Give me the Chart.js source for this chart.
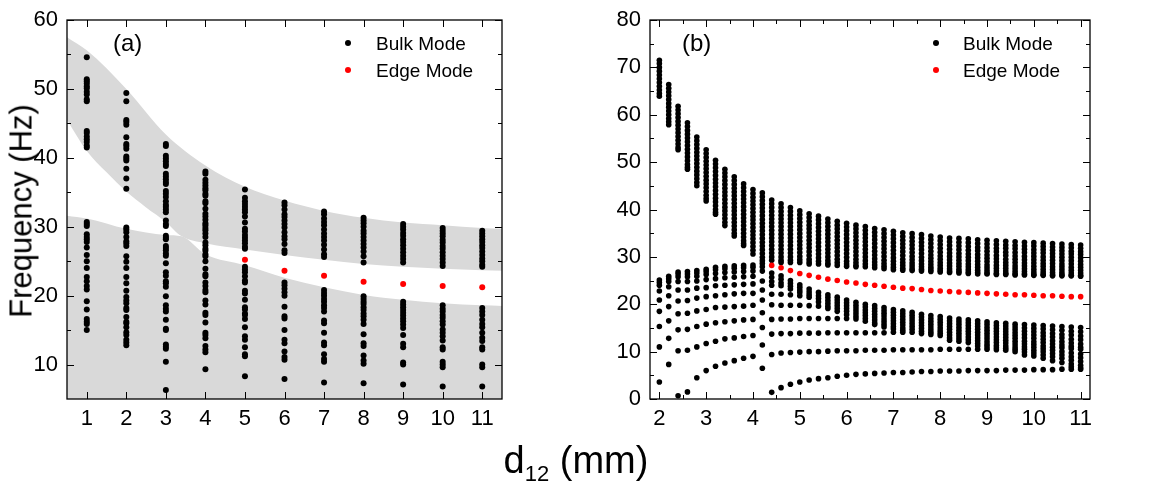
<!DOCTYPE html>
<html>
<head>
<meta charset="utf-8">
<script src="https://cdn.jsdelivr.net/npm/chart.js@4.4.1/dist/chart.umd.min.js"></script>
<style>
  body { margin: 0; background: #fff; }
  #wrap { position: relative; width: 1153px; height: 486px; font-family: "Liberation Sans", Arial, sans-serif; color: #000; }
  canvas { position: absolute; top: 0; }
  #cA { left: 0; }
  #cB { left: 600px; }
  .t { position: absolute; white-space: nowrap; line-height: 1; }
  .dot { position: absolute; width: 6px; height: 6px; border-radius: 50%; }
</style>
</head>
<body>
<div id="wrap">
  <canvas id="cA" width="600" height="486"></canvas>
  <canvas id="cB" width="553" height="486"></canvas>

  <div class="t" style="left:113px;top:31px;font-size:24px;">(a)</div>
  <span class="dot" style="left:345px;top:40px;background:#000"></span>
  <div class="t" style="left:376px;top:34px;font-size:19px;">Bulk Mode</div>
  <span class="dot" style="left:345px;top:67px;background:#f00"></span>
  <div class="t" style="left:376px;top:61px;font-size:19px;">Edge Mode</div>

  <div class="t" style="left:682px;top:31px;font-size:24px;">(b)</div>
  <span class="dot" style="left:933px;top:40px;background:#000"></span>
  <div class="t" style="left:963px;top:34px;font-size:19px;">Bulk Mode</div>
  <span class="dot" style="left:933px;top:67px;background:#f00"></span>
  <div class="t" style="left:963px;top:61px;font-size:19px;">Edge Mode</div>

  <div class="t" style="left:21px;top:211px;font-size:31px;transform:translate(-50%,-50%) rotate(-90deg);">Frequency (Hz)</div>
  <div class="t" style="left:576px;top:441px;font-size:38px;transform:translateX(-50%);">d<sub style="font-size:22px;vertical-align:-8px;">12</sub> (mm)</div>
</div>

<script>
// ---- panel (a) ----
const aXTicks = [1, 2, 3, 4, 5, 6, 7, 8, 9, 10, 11];
const aYTicks = [10, 20, 30, 40, 50, 60];
const aYMinor = [15, 25, 35, 45, 55];

const aCols = [1, 2, 3, 4, 5, 6, 7, 8, 9, 10, 11];
// bulk frequencies per column
const aBulk = [
  [54.6,51.4,51.1,50.8,50.4,50.1,49.6,49.2,48.5,48.2,43.9,43.6,43.1,42.7,42.3,41.8,41.5,30.7,30.4,30.1,28.9,28.5,28.2,27.8,27.0,25.9,25.0,24.0,22.7,22.1,21.4,20.9,19.2,18.0,16.6,16.2,15.9,15.0],
  [49.4,48.2,45.5,45.2,44.8,43.0,42.0,41.7,41.3,40.2,39.9,39.6,38.4,37.0,35.5,29.9,29.6,29.2,28.5,27.9,27.6,27.2,25.7,24.9,24.0,22.7,21.8,20.7,19.8,19.3,18.9,18.2,17.9,16.9,16.2,16.0,15.4,14.7,14.3,13.6,13.2,12.8],
  [42.0,41.7,40.3,39.9,39.5,39.1,38.8,37.7,37.3,36.9,36.5,36.2,35.2,34.8,34.3,33.7,33.2,32.9,32.5,32.1,30.9,30.4,30.1,28.7,28.4,28.2,27.2,26.9,26.6,26.1,25.8,24.7,23.4,22.9,22.1,21.8,21.3,19.9,18.6,18.1,17.7,16.5,15.2,15.0,12.9,12.6,12.3,10.4,6.3],
  [38.0,37.7,36.8,36.4,36.0,35.6,35.3,34.8,34.5,33.7,33.4,32.6,31.9,31.5,31.0,30.5,30.2,29.8,29.5,29.0,28.5,27.7,27.3,26.8,26.5,26.0,25.7,25.0,23.9,23.1,22.8,21.9,21.4,20.8,20.5,19.3,18.7,17.5,17.2,16.1,14.6,14.3,13.8,12.7,12.2,11.8,9.3],
  [35.4,34.2,33.7,33.3,32.9,32.5,32.1,31.5,30.6,29.7,29.3,28.8,28.4,28.0,27.6,27.1,26.8,24.2,23.8,23.4,22.8,22.2,21.9,20.7,20.3,19.4,18.3,18.0,17.4,17.2,16.6,15.4,14.1,13.6,12.5,11.5,11.2,8.3],
  [33.5,33.1,32.5,31.8,31.4,30.9,30.4,29.9,29.2,28.6,28.2,27.5,26.6,26.2,21.9,21.5,21.0,20.5,20.0,18.4,17.0,16.7,15.0,13.6,13.1,11.9,11.1,10.7,7.9],
  [32.2,31.8,31.2,30.7,30.2,29.6,29.0,28.5,28.0,27.4,26.7,26.0,25.6,20.8,20.4,20.0,19.5,19.1,18.6,18.2,17.7,16.4,16.0,14.6,13.2,12.8,11.5,10.8,10.4,7.4],
  [31.3,30.9,30.5,30.0,29.4,29.0,28.5,28.0,27.5,27.0,26.4,25.7,24.8,19.9,19.5,19.1,18.8,18.3,17.9,17.4,17.0,16.5,15.9,14.4,13.1,12.7,11.3,10.6,10.1,7.3],
  [30.4,30.0,29.6,29.1,28.7,28.2,27.8,27.3,26.8,26.3,25.8,25.3,24.8,19.1,18.7,18.3,17.9,17.5,17.1,16.7,16.3,15.8,15.3,14.3,13.0,12.5,10.3,10.0,7.1],
  [29.8,29.4,29.0,28.6,28.1,27.7,27.2,26.8,26.3,25.8,25.3,24.8,24.3,18.6,18.1,17.7,17.2,16.8,16.3,15.8,15.1,14.6,14.1,13.5,12.5,12.2,10.4,10.0,9.6,6.8],
  [29.4,29.0,28.6,28.2,27.8,27.3,26.9,26.4,25.9,25.4,25.0,24.5,24.2,18.2,17.7,17.2,16.5,15.9,15.4,14.6,13.9,13.4,12.5,12.2,10.0,9.6,6.8]
];
const aEdgeX = [5, 6, 7, 8, 9, 10, 11];
const aEdgeY = [25.2, 23.6, 22.9, 22.0, 21.7, 21.4, 21.2];

// gray band edges
const aCapX = [0.5, 1, 2, 3, 4, 5, 6, 7, 8, 9, 10, 11, 11.5];
const aCapY = [57.5, 55.6, 50.0, 43.4, 38.9, 35.8, 33.8, 32.3, 31.3, 30.6, 30.2, 29.8, 29.7];
const aGapTopX = [0.5, 1, 1.5, 2, 2.5, 3, 3.4, 4, 5, 6, 7, 8, 9, 10, 11, 11.5];
const aGapTopY = [45.5, 41.0, 37.9, 35.1, 32.8, 30.7, 28.6, 27.6, 26.7, 25.9, 25.2, 24.6, 24.2, 23.9, 23.7, 23.6];
const aGapBotX = [0.5, 1, 2, 3, 3.4, 4, 5, 6, 7, 8, 9, 10, 11, 11.5];
const aGapBotY = [31.6, 31.2, 29.7, 28.8, 28.6, 26.0, 24.4, 22.6, 21.2, 20.1, 19.4, 18.9, 18.6, 18.5];

// ---- panel (b) ----
const bXTicks = [2, 3, 4, 5, 6, 7, 8, 9, 10, 11];
const bXMinor = [2.5, 3.5, 4.5, 5.5, 6.5, 7.5, 8.5, 9.5, 10.5];
const bYTicks = [0, 10, 20, 30, 40, 50, 60, 70, 80];
const bYMinor = [5, 15, 25, 35, 45, 55, 65, 75];

const bCols = [2.0,2.2,2.4,2.6,2.8,3.0,3.2,3.4,3.6,3.8,4.0,4.2,4.4,4.6,4.8,5.0,5.2,5.4,5.6,5.8,6.0,6.2,6.4,6.6,6.8,7.0,7.2,7.4,7.6,7.8,8.0,8.2,8.4,8.6,8.8,9.0,9.2,9.4,9.6,9.8,10.0,10.2,10.4,10.6,10.8,11.0];
// upper bulk band per column
const bUpper = [
  [71.5,70.8,70.0,69.2,68.4,67.6,66.8,66.0,65.2,64.5,63.9],
  [66.4,65.6,64.8,64.0,63.2,62.4,61.6,60.8,60.0,59.2,58.5,57.9],
  [61.8,61.0,60.2,59.4,58.6,57.8,57.0,56.2,55.4,54.6,53.8,53.1,52.6],
  [58.3,57.5,56.7,55.9,55.1,54.3,53.5,52.7,51.9,51.1,50.3,49.5,48.9,48.5],
  [55.3,54.5,53.7,52.9,52.1,51.3,50.5,49.7,48.9,48.1,47.3,46.5,45.7,45.0],
  [52.6,51.8,51.0,50.2,49.4,48.6,47.8,47.0,46.2,45.4,44.6,43.8,43.0,42.3,41.8],
  [50.4,49.6,48.8,48.0,47.2,46.4,45.6,44.8,44.0,43.2,42.4,41.6,40.8,40.0,39.4,39.0],
  [48.5,47.7,46.9,46.1,45.3,44.5,43.7,42.9,42.1,41.3,40.5,39.7,38.9,38.1,37.3,36.6],
  [46.9,46.1,45.3,44.5,43.7,42.9,42.1,41.3,40.5,39.7,38.9,38.1,37.3,36.5,35.7,35.0,34.4],
  [45.4,44.6,43.8,43.0,42.2,41.4,40.6,39.8,39.0,38.2,37.4,36.6,35.8,35.0,34.2,33.4,32.8,32.4],
  [44.2,43.4,42.6,41.8,41.0,40.2,39.4,38.6,37.8,37.0,36.2,35.4,34.6,33.8,33.0,32.2,31.4,30.6],
  [43.5,42.7,41.9,41.1,40.3,39.5,38.7,37.9,37.1,36.3,35.5,34.7,33.9,33.1,32.3,31.5,30.7,29.9,29.2,28.6],
  [42.0,41.2,40.4,39.6,38.8,38.0,37.2,36.4,35.6,34.8,34.0,33.2,32.4,31.6,30.8,30.0,29.3],
  [41.2,40.4,39.6,38.8,38.0,37.2,36.4,35.6,34.8,34.0,33.2,32.4,31.6,30.8,30.0,29.3,28.8],
  [40.4,39.6,38.8,38.0,37.2,36.4,35.6,34.8,34.0,33.2,32.4,31.6,30.8,30.0,29.3,28.8],
  [39.7,38.9,38.1,37.3,36.5,35.7,34.9,34.1,33.3,32.5,31.7,30.9,30.1,29.4,28.8],
  [39.1,38.3,37.5,36.7,35.9,35.1,34.3,33.5,32.7,31.9,31.1,30.3,29.5,28.9,28.5],
  [38.6,37.8,37.0,36.2,35.4,34.6,33.8,33.0,32.2,31.4,30.6,29.8,29.1,28.5],
  [38.0,37.2,36.4,35.6,34.8,34.0,33.2,32.4,31.6,30.8,30.0,29.2,28.6,28.3],
  [37.5,36.7,35.9,35.1,34.3,33.5,32.7,31.9,31.1,30.3,29.5,28.8,28.2],
  [37.1,36.3,35.5,34.7,33.9,33.1,32.3,31.5,30.7,29.9,29.1,28.5,28.0],
  [36.7,35.9,35.1,34.3,33.5,32.7,31.9,31.1,30.3,29.5,28.8,28.2,27.9],
  [36.4,35.6,34.8,34.0,33.2,32.4,31.6,30.8,30.0,29.2,28.5,27.9],
  [36.0,35.2,34.4,33.6,32.8,32.0,31.2,30.4,29.6,28.9,28.3,27.7],
  [35.7,34.9,34.1,33.3,32.5,31.7,30.9,30.1,29.3,28.6,28.0,27.5],
  [35.4,34.6,33.8,33.0,32.2,31.4,30.6,29.8,29.1,28.4,27.8,27.3],
  [35.1,34.3,33.5,32.7,31.9,31.1,30.3,29.5,28.8,28.2,27.6,27.2],
  [34.9,34.1,33.3,32.5,31.7,30.9,30.1,29.4,28.7,28.1,27.5,27.1],
  [34.7,33.9,33.1,32.3,31.5,30.7,29.9,29.2,28.5,27.9,27.4,27.0],
  [34.4,33.6,32.8,32.0,31.2,30.4,29.7,29.0,28.4,27.8,27.3,26.9],
  [34.2,33.4,32.6,31.8,31.0,30.2,29.5,28.8,28.2,27.6,27.1,26.8],
  [34.0,33.2,32.4,31.6,30.8,30.1,29.4,28.7,28.1,27.5,27.0,26.7],
  [33.9,33.1,32.3,31.5,30.7,30.0,29.3,28.6,28.0,27.4,26.9,26.6],
  [33.8,33.0,32.2,31.4,30.6,29.9,29.2,28.5,27.9,27.3,26.8,26.5],
  [33.6,32.8,32.0,31.3,30.5,29.8,29.1,28.4,27.8,27.2,26.7,26.4],
  [33.5,32.7,31.9,31.2,30.4,29.7,29.0,28.3,27.7,27.1,26.6,26.4],
  [33.4,32.6,31.8,31.1,30.3,29.6,28.9,28.2,27.6,27.0,26.5,26.3],
  [33.3,32.5,31.8,31.0,30.3,29.5,28.8,28.2,27.6,27.0,26.5,26.3],
  [33.2,32.4,31.7,30.9,30.2,29.5,28.8,28.1,27.5,26.9,26.4,26.2],
  [33.1,32.3,31.6,30.9,30.1,29.4,28.7,28.1,27.5,26.9,26.4,26.2],
  [33.0,32.3,31.5,30.8,30.1,29.4,28.7,28.0,27.4,26.8,26.3,26.1],
  [32.9,32.2,31.5,30.8,30.0,29.3,28.6,28.0,27.4,26.8,26.3,26.1],
  [32.8,32.1,31.4,30.7,30.0,29.3,28.6,27.9,27.3,26.7,26.2,26.0],
  [32.7,32.0,31.3,30.6,29.9,29.2,28.5,27.9,27.3,26.7,26.2,26.0],
  [32.6,31.9,31.2,30.6,29.9,29.2,28.5,27.8,27.2,26.6,26.1,26.0],
  [32.5,31.8,31.1,30.5,29.8,29.1,28.4,27.8,27.2,26.6,26.1,25.9]
];
// lower bulk branches per column
const bLower = [
  [25.1,24.6,24.0,22.8,20.9,18.5,15.3,11.0,3.6],
  [25.9,25.4,24.8,23.7,21.8,19.5,16.5,12.8,7.3],
  [26.8,26.4,25.8,24.8,23.0,20.7,18.0,14.6,10.2,0.7],
  [26.9,26.4,25.8,24.8,23.0,20.8,18.1,14.7,10.3,1.5],
  [27.1,26.6,25.9,24.9,23.4,21.3,18.6,15.3,11.0,4.5],
  [27.4,26.9,26.3,25.2,23.5,21.6,18.9,15.8,11.7,6.0],
  [27.8,27.3,26.5,25.4,23.9,21.8,19.3,16.1,12.2,6.9],
  [28.0,27.5,26.7,25.6,24.0,22.0,19.4,16.3,12.7,7.6],
  [28.1,27.6,26.8,25.7,24.1,22.2,19.5,16.5,12.9,8.1],
  [28.2,27.7,26.9,25.8,24.2,22.3,19.6,16.7,13.2,8.6],
  [28.3,27.8,27.0,25.9,24.3,22.3,19.8,16.8,13.4,9.0],
  [27.9,27.0,24.9,23.0,20.9,18.2,15.1,11.4,6.5],
  [26.6,25.7,24.8,24.0,22.1,19.9,16.8,13.7,9.4,1.4],
  [26.0,25.3,24.5,23.9,22.1,19.8,16.9,13.8,9.7,2.4],
  [25.0,24.4,23.8,23.2,22.0,19.8,16.9,13.8,9.8,3.1],
  [24.1,23.6,23.0,22.5,21.8,19.8,17.0,13.9,9.9,3.6],
  [23.2,22.6,22.0,21.5,19.7,17.0,13.9,10.0,4.0],
  [22.5,21.8,21.2,20.5,19.6,17.0,13.9,10.0,4.3],
  [22.0,21.4,20.8,20.2,19.6,19.1,17.0,14.0,10.1,4.5],
  [21.5,20.9,20.3,19.7,19.1,18.5,17.0,14.0,10.2,4.8],
  [20.9,20.3,19.7,19.1,18.5,17.8,17.0,14.0,10.2,5.0],
  [20.4,19.8,19.2,18.6,18.0,17.4,16.9,14.0,10.2,5.2],
  [20.0,19.4,18.8,18.2,17.6,17.0,16.4,14.0,10.3,5.3],
  [19.7,19.1,18.5,17.9,17.3,16.7,16.1,15.7,14.0,10.3,5.4],
  [19.3,18.7,18.1,17.5,16.9,16.3,15.7,15.2,14.0,10.3,5.5],
  [18.9,18.3,17.7,17.1,16.5,15.9,15.3,14.8,14.1,10.4,5.6],
  [18.6,18.0,17.4,16.8,16.2,15.6,15.0,14.5,14.1,10.4,5.6],
  [18.3,17.7,17.1,16.5,15.9,15.3,14.7,14.1,10.4,5.7],
  [17.9,17.3,16.7,16.1,15.5,14.9,14.3,13.8,10.4,5.8],
  [17.6,17.0,16.4,15.8,15.2,14.6,14.1,13.6,10.4,5.8],
  [17.4,16.8,16.2,15.6,15.0,14.4,13.9,13.4,10.5,5.9],
  [17.1,16.5,15.9,15.3,14.7,14.1,13.5,12.9,12.4,10.5,5.9],
  [16.9,16.3,15.7,15.1,14.5,13.9,13.3,12.7,12.2,10.5,5.9],
  [16.7,16.1,15.5,14.9,14.3,13.7,13.1,12.5,11.9,10.5,6.0],
  [16.5,15.9,15.3,14.7,14.1,13.5,12.9,12.3,11.7,11.2,10.5,6.0],
  [16.3,15.7,15.1,14.5,13.9,13.3,12.7,12.1,11.5,11.0,10.5,6.0],
  [16.1,15.5,14.9,14.3,13.7,13.1,12.5,11.9,11.3,10.8,10.4,6.0],
  [16.0,15.4,14.8,14.2,13.6,13.0,12.4,11.8,11.2,10.7,10.3,6.1],
  [15.8,15.2,14.6,14.0,13.4,12.8,12.2,11.6,11.0,10.5,10.0,6.1],
  [15.7,15.0,14.3,13.6,12.9,12.2,11.6,11.0,10.5,9.9,9.3,6.1],
  [15.6,14.9,14.2,13.5,12.8,12.1,11.5,10.9,10.3,9.7,9.1,6.2],
  [15.5,14.8,14.0,13.3,12.6,11.9,11.2,10.6,10.0,9.3,8.6,6.2],
  [15.4,14.6,13.8,13.1,12.3,11.6,10.9,10.3,9.6,8.9,8.1,6.2],
  [15.3,14.5,13.6,12.9,12.1,11.4,10.8,10.0,9.3,8.6,7.7,6.3],
  [15.2,14.3,13.5,12.6,11.8,11.1,10.6,9.7,8.9,8.2,7.4,6.8,6.3],
  [15.1,14.2,13.3,12.5,11.6,10.9,10.5,9.5,8.7,7.9,7.1,6.6,6.3]
];
const bEdgeX = [4.4,4.6,4.8,5.0,5.2,5.4,5.6,5.8,6.0,6.2,6.4,6.6,6.8,7.0,7.2,7.4,7.6,7.8,8.0,8.2,8.4,8.6,8.8,9.0,9.2,9.4,9.6,9.8,10.0,10.2,10.4,10.6,10.8,11.0];
const bEdgeY = [28.2,27.7,27.1,26.5,26.1,25.7,25.3,25.0,24.7,24.5,24.2,24.0,23.8,23.6,23.4,23.3,23.1,22.9,22.8,22.7,22.6,22.5,22.4,22.3,22.2,22.1,22.0,22.0,21.9,21.8,21.8,21.7,21.6,21.6];

const zip = (xs, ys) => xs.map((x, i) => ({ x: x, y: ys[i] }));
const columns = (xs, lists) => {
    const pts = [];
    xs.forEach((x, i) => lists.forEach(l => l[i].forEach(y => pts.push({ x: x, y: y }))));
    return pts;
};

// inward ticks on all four sides plus the box
const framePlugin = {
    id: 'frame',
    afterDatasetsDraw(chart, args, o) {
        const ctx = chart.ctx, a = chart.chartArea;
        const sx = chart.scales.x, sy = chart.scales.y;
        ctx.save();
        ctx.strokeStyle = '#000';
        ctx.lineWidth = 1;
        ctx.beginPath();
        const tx = (vals, len) => vals.forEach(v => {
            const p = Math.round(sx.getPixelForValue(v)) + 0.5;
            ctx.moveTo(p, a.bottom); ctx.lineTo(p, a.bottom - len);
            ctx.moveTo(p, a.top); ctx.lineTo(p, a.top + len);
        });
        const ty = (vals, len) => vals.forEach(v => {
            const p = Math.round(sy.getPixelForValue(v)) + 0.5;
            ctx.moveTo(a.left, p); ctx.lineTo(a.left + len, p);
            ctx.moveTo(a.right, p); ctx.lineTo(a.right - len, p);
        });
        tx(o.xMajor, 7); tx(o.xMinor, 4);
        ty(o.yMajor, 7); ty(o.yMinor, 4);
        ctx.stroke();
        ctx.lineWidth = 1.3;
        ctx.strokeRect(a.left, a.top, a.right - a.left, a.bottom - a.top);
        ctx.restore();
    }
};

const tickFont = { family: 'Liberation Sans', size: 22, lineHeight: 1 };

function axes(xr, yr, xt, yt, yWidth) {
    return {
        x: {
            type: 'linear', min: xr[0], max: xr[1],
            grid: { display: false, drawTicks: false }, border: { display: false },
            ticks: { color: '#000', font: tickFont, padding: 9, maxRotation: 0 },
            afterBuildTicks: s => { s.ticks = xt.map(v => ({ value: v })); },
            afterFit: s => { s.height = 87; }
        },
        y: {
            type: 'linear', min: yr[0], max: yr[1],
            grid: { display: false, drawTicks: false }, border: { display: false },
            ticks: { color: '#000', font: tickFont, padding: 9 },
            afterBuildTicks: s => { s.ticks = yt.map(v => ({ value: v })); },
            afterFit: s => { s.width = yWidth; }
        }
    };
}

const dotStyle = { pointRadius: 3, pointBorderWidth: 0, showLine: false };
const bandStyle = { type: 'line', pointRadius: 0, borderWidth: 0, borderColor: 'rgba(0,0,0,0)', backgroundColor: '#d9d9d9', cubicInterpolationMode: 'monotone' };

new Chart(document.getElementById('cA'), {
    type: 'scatter',
    data: {
        datasets: [
            Object.assign({ data: zip(aEdgeX, aEdgeY), backgroundColor: '#ff0000' }, dotStyle),
            Object.assign({ data: columns(aCols, [aBulk]), backgroundColor: '#000' }, dotStyle),
            Object.assign({ data: zip(aCapX, aCapY), fill: '+1' }, bandStyle),
            Object.assign({ data: zip(aGapTopX, aGapTopY), fill: false }, bandStyle),
            Object.assign({ data: zip(aGapBotX, aGapBotY), fill: 'start' }, bandStyle)
        ]
    },
    options: {
        responsive: false, animation: false, events: [],
        layout: { padding: { top: 11, right: 98, left: 0, bottom: 0 } },
        scales: axes([0.5, 11.5], [5, 60], aXTicks, aYTicks, 67),
        plugins: {
            legend: { display: false }, tooltip: { enabled: false },
            frame: { xMajor: aXTicks, xMinor: [], yMajor: aYTicks, yMinor: aYMinor }
        }
    },
    plugins: [framePlugin]
});

new Chart(document.getElementById('cB'), {
    type: 'scatter',
    data: {
        datasets: [
            Object.assign({ data: zip(bEdgeX, bEdgeY), backgroundColor: '#ff0000' }, dotStyle, { pointRadius: 2.8 }),
            Object.assign({ data: columns(bCols, [bUpper, bLower]), backgroundColor: '#000' }, dotStyle, { pointRadius: 2.8 })
        ]
    },
    options: {
        responsive: false, animation: false, events: [],
        layout: { padding: { top: 11, right: 63, left: 0, bottom: 0 } },
        scales: axes([1.8, 11.2], [0, 80], bXTicks, bYTicks, 50),
        plugins: {
            legend: { display: false }, tooltip: { enabled: false },
            frame: { xMajor: bXTicks, xMinor: bXMinor, yMajor: bYTicks, yMinor: bYMinor }
        }
    },
    plugins: [framePlugin]
});
</script>
</body>
</html>
